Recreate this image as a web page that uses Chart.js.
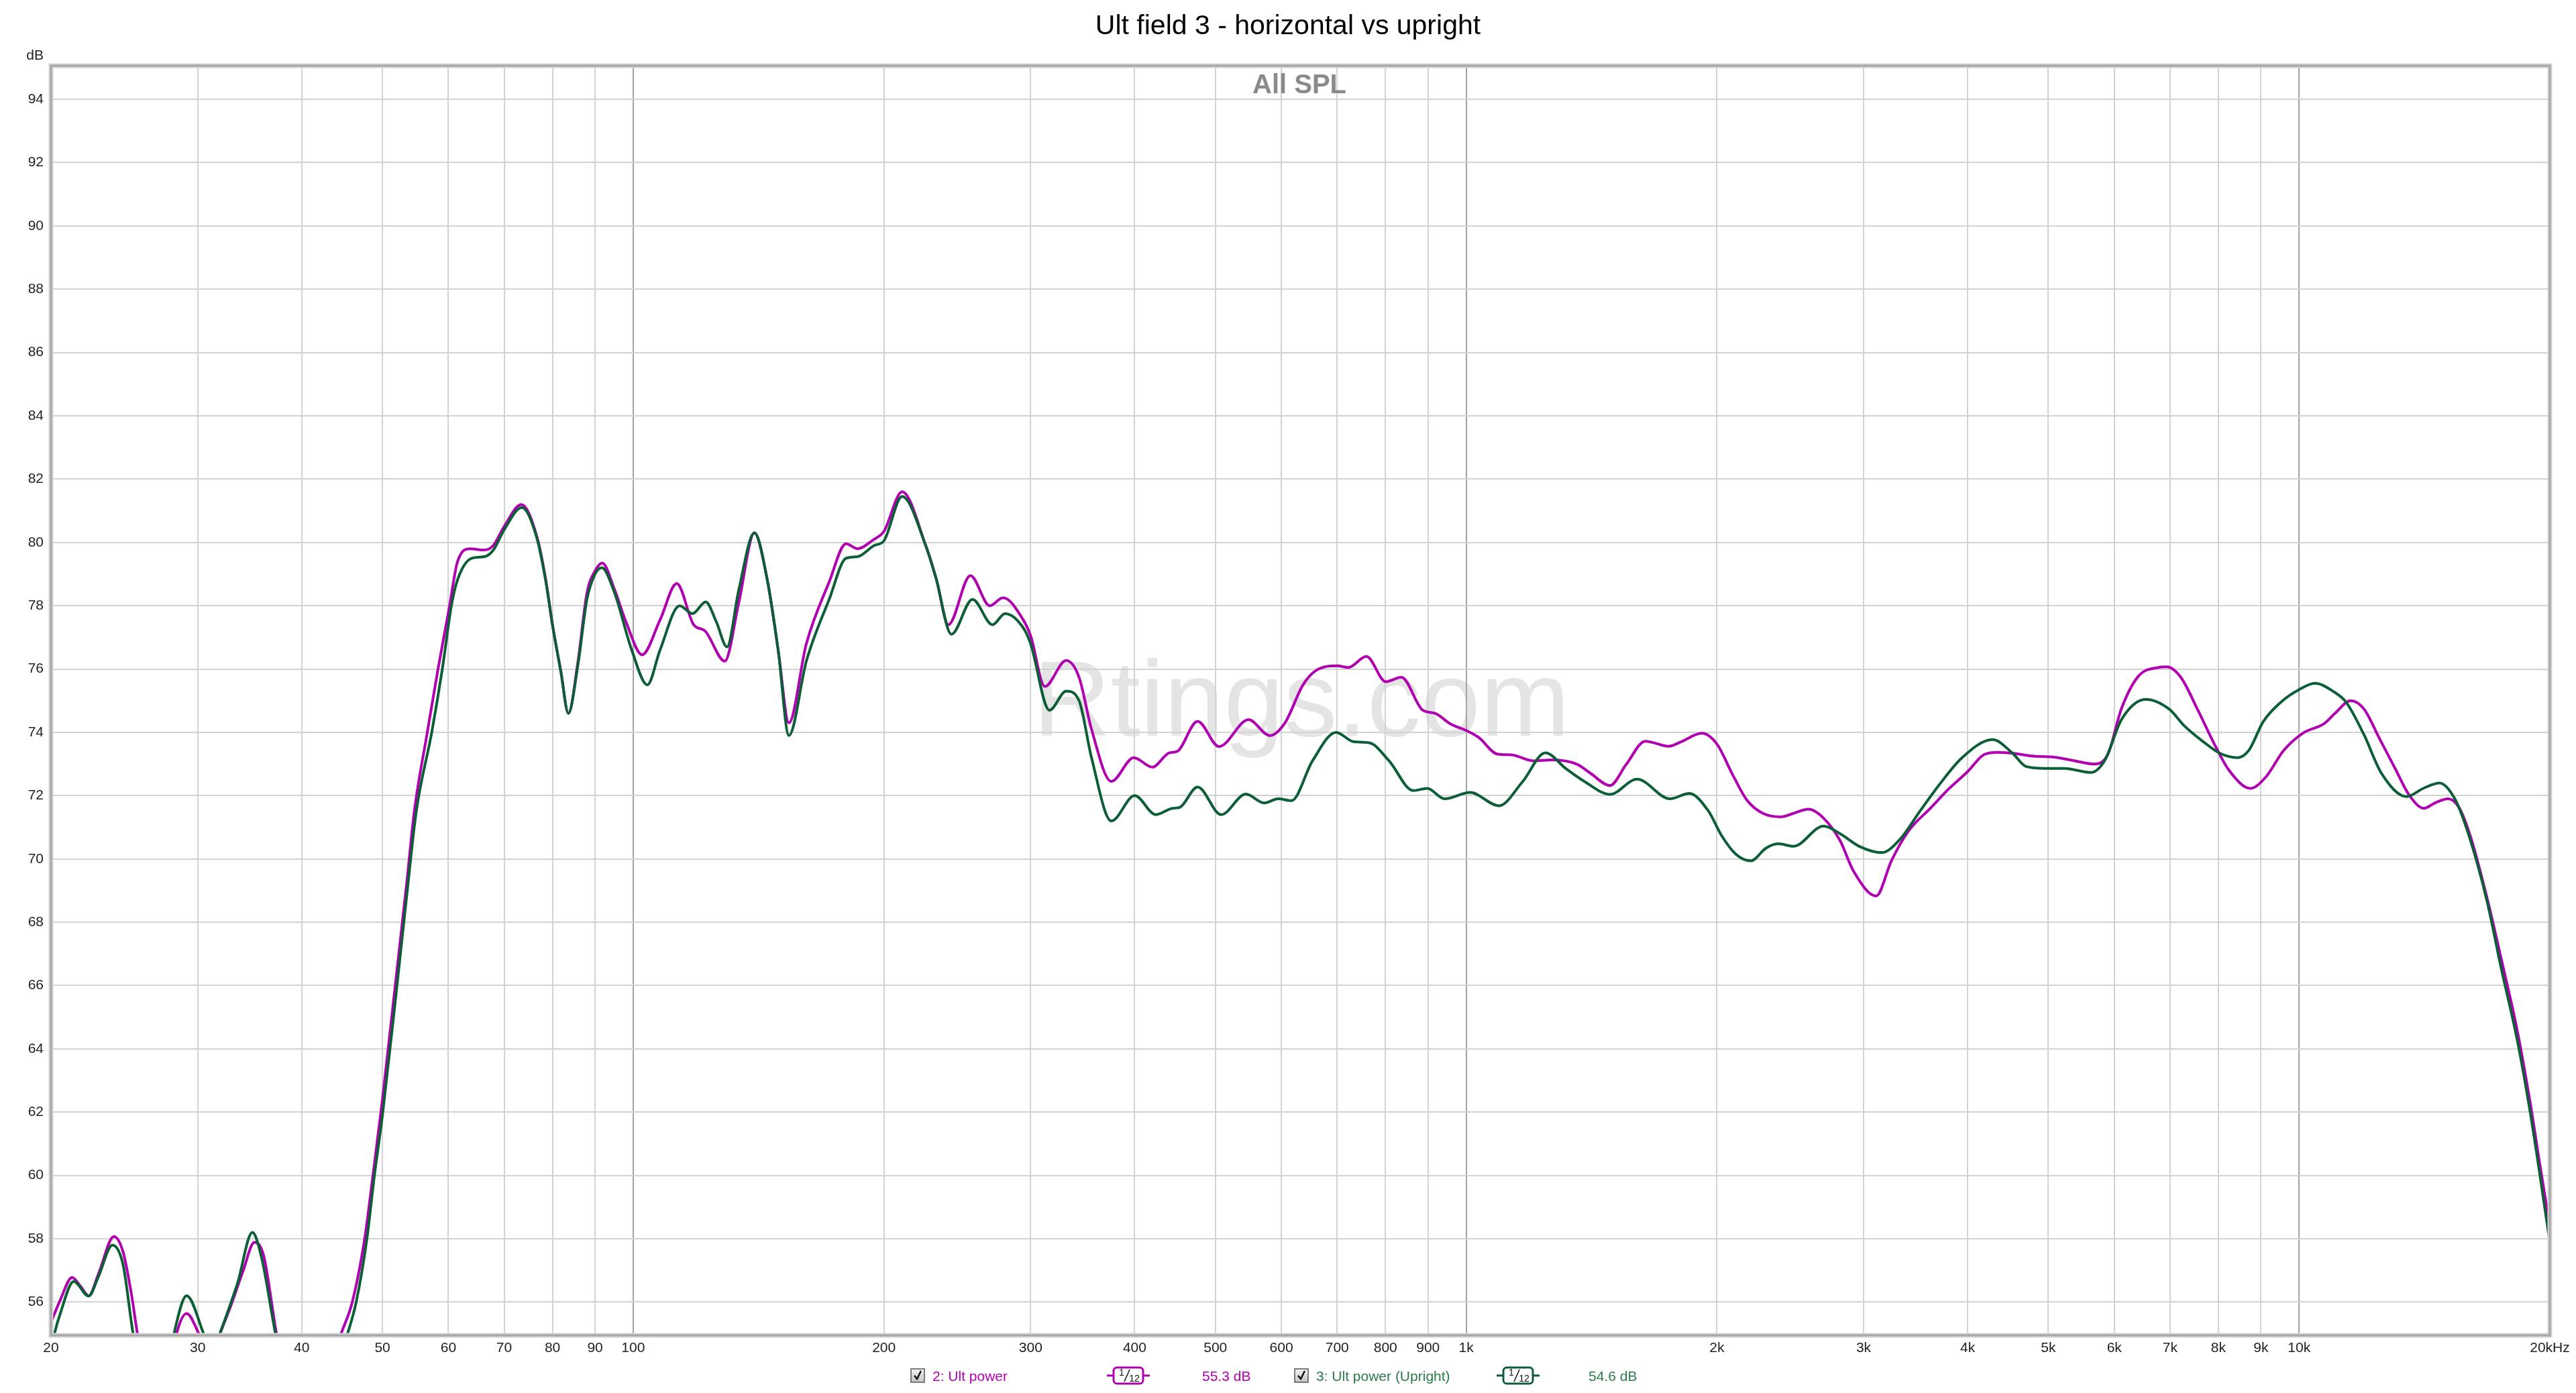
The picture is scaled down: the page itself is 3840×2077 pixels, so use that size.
<!DOCTYPE html>
<html>
<head>
<meta charset="utf-8">
<script src="https://cdn.jsdelivr.net/npm/chart.js@4.4.1/dist/chart.umd.min.js"></script>
<style>
  html, body { margin: 0; padding: 0; background: #fff; }
</style>
</head>
<body>
<canvas id="spl" width="3840" height="2077"></canvas>
<script>
// Ult power, horizontal (magenta) - frequency in Hz, level in dB
const ultFreq = [20, 20.5, 21.2, 21.7, 22.2, 22.8, 23.8, 24.4, 25.0, 25.4,
  26.5, 27.5, 28.3, 29.1, 30.1, 31.0, 31.9, 32.9, 34.0, 35.1,
  36.0, 37.3, 39.5, 42.5, 44.6, 46.0, 47.6, 48.7, 50, 52,
  53.5, 54.6, 56.6, 58.3, 60.2, 61.5, 63.7, 66.3, 67.9, 70,
  73.4, 76.6, 78.5, 80, 81.9, 83.6, 85.8, 88, 90, 91.8,
  95, 98, 102.5, 107.7, 112.8, 118.2, 122, 128.8, 133.9, 139.8,
  144.8, 149.3, 153.8, 161.4, 171.9, 180.1, 185.9, 194.6, 200, 210.3,
  224.5, 231.1, 239, 254, 268, 278, 294, 300, 312, 331,
  343, 355, 375, 399, 420, 440, 450, 476, 505, 548,
  581, 606, 637, 660, 700, 722, 759, 801, 836, 887,
  918, 957, 1000, 1035, 1091, 1133, 1204, 1269, 1359, 1411,
  1488, 1557, 1641, 1751, 1811, 1918, 2000, 2091, 2173, 2272,
  2387, 2472, 2575, 2686, 2811, 2920, 3106, 3241, 3392, 3617,
  3792, 4000, 4188, 4353, 4560, 4776, 5069, 5379, 5665, 5893,
  6120, 6412, 6776, 6937, 7210, 7560, 7922, 8239, 8741, 9129,
  9578, 10115, 10711, 11045, 11530, 11962, 12491, 13046, 13538, 14122,
  14563, 15100, 15580, 16064, 16800, 17500, 18270, 18970, 19440, 20000];
const ultDb = [55.36, 56.04, 56.78, 56.5, 56.2, 56.88, 58.07, 57.6, 56.2, 55.0,
  52.8, 53.2, 55.0, 55.64, 55.0, 54.2, 55.0, 55.9, 56.97, 57.89,
  57.47, 55.0, 51.8, 53.3, 55.0, 56.0, 58.0, 60.0, 62.4, 66.4,
  69.3, 71.5, 74.0, 76.0, 78.0, 79.37, 79.8, 79.76, 79.9, 80.5,
  81.2, 80.2, 78.85, 77.4, 75.9, 74.6, 76.2, 78.4, 79.1, 79.35,
  78.5, 77.5, 76.45, 77.55, 78.7, 77.4, 77.2, 76.25, 78.1, 80.3,
  78.85, 76.6, 74.3, 76.8, 78.75, 79.96, 79.8, 80.1, 80.35, 81.6,
  79.9, 78.85, 77.4, 78.95, 78.0, 78.25, 77.55, 77.05, 75.45, 76.27,
  75.74, 74.1, 72.45, 73.2, 72.9, 73.35, 73.4, 74.35, 73.55, 74.4,
  73.9, 74.3, 75.5, 75.95, 76.1, 76.05, 76.4, 75.6, 75.74, 74.7,
  74.6, 74.27, 74.06, 73.84, 73.31, 73.29, 73.1, 73.13, 72.99, 72.7,
  72.32, 72.99, 73.72, 73.56, 73.7, 73.97, 73.63, 72.64, 71.86, 71.44,
  71.33, 71.44, 71.57, 71.29, 70.58, 69.6, 68.83, 69.95, 70.86, 71.63,
  72.2, 72.76, 73.3, 73.37, 73.33, 73.25, 73.22, 73.1, 73.0, 73.3,
  74.75, 75.77, 76.05, 76.07, 75.74, 74.7, 73.6, 72.8, 72.23, 72.6,
  73.42, 73.98, 74.27, 74.6, 75.0, 74.74, 73.8, 72.85, 72.04, 71.6,
  71.77, 71.9, 71.6, 70.7, 68.8, 66.8, 64.6, 62.2, 60.4, 58.4];

// Ult power (Upright) (green)
const uprightFreq = [20, 20.2, 20.5, 21.3, 22.2, 22.8, 23.7, 24.4, 25.1, 26.3,
  27.3, 28.1, 29.1, 30.5, 31.2, 31.9, 33.5, 34.9, 35.8, 37.2,
  39.5, 42.5, 45.4, 46.5, 47.9, 48.9, 50, 52, 53.5, 54.9,
  57.3, 59.0, 60.5, 61.5, 64.0, 66.3, 67.9, 70, 73.5, 76.6,
  78.5, 80, 81.9, 83.6, 85.8, 88, 90, 91.7, 95, 99.6,
  104, 107.7, 113.7, 117.8, 122.2, 125.8, 129.6, 133.9, 139.8, 144.8,
  149.3, 153.8, 161.4, 171.9, 180.1, 185.9, 194.6, 200, 210.3, 224.5,
  231.1, 241, 255.5, 270, 279.5, 294, 300, 316, 331, 343,
  355, 375, 400, 424, 444, 453, 476, 508, 544, 572,
  595, 617, 654, 698, 733, 765, 808, 864, 898, 942,
  1011, 1095, 1168, 1245, 1318, 1390, 1488, 1604, 1757, 1853,
  1954, 2027, 2106, 2197, 2290, 2370, 2472, 2686, 2811, 2964,
  3155, 3325, 3504, 3695, 3939, 4286, 4525, 4703, 4962, 5226,
  5622, 5846, 6120, 6547, 6992, 7266, 7676, 8044, 8437, 8707,
  9057, 9525, 10000, 10452, 10980, 11390, 11962, 12560, 13460, 14122,
  14740, 15380, 15965, 16800, 17500, 18270, 18970, 20000];
const uprightDb = [54.3, 55.0, 55.6, 56.65, 56.19, 56.8, 57.8, 57.2, 55.0, 52.6,
  53.2, 55.0, 56.2, 55.0, 54.3, 55.0, 56.6, 58.2, 57.4, 55.0,
  51.8, 52.8, 55.0, 56.0, 58.0, 60.0, 61.9, 65.9, 68.9, 71.5,
  74.0, 76.0, 78.0, 78.8, 79.5, 79.55, 79.75, 80.4, 81.1, 80.15,
  78.8, 77.4, 75.9, 74.6, 76.1, 78.2, 79.0, 79.2, 78.4, 76.6,
  75.5, 76.6, 78.0, 77.75, 78.12, 77.5, 76.7, 78.5, 80.3, 78.85,
  76.6, 73.9, 76.25, 78.2, 79.5, 79.55, 79.9, 80.05, 81.45, 79.9,
  78.85, 77.1, 78.2, 77.4, 77.75, 77.3, 76.8, 74.7, 75.3, 75.0,
  73.2, 71.2, 72.0, 71.4, 71.6, 71.63, 72.27, 71.4, 72.05, 71.77,
  71.9, 71.84, 73.1, 74.0, 73.7, 73.67, 73.1, 72.16, 72.23, 71.9,
  72.1, 71.68, 72.43, 73.35, 72.85, 72.43, 72.04, 72.52, 71.9, 72.07,
  71.51, 70.73, 70.16, 69.94, 70.34, 70.48, 70.4, 71.04, 70.8, 70.4,
  70.2, 70.65, 71.5, 72.33, 73.2, 73.77, 73.35, 72.92, 72.86, 72.86,
  72.73, 73.12, 74.4, 75.04, 74.72, 74.23, 73.7, 73.33, 73.2, 73.44,
  74.34, 74.97, 75.35, 75.55, 75.3, 74.95, 73.93, 72.7, 71.97, 72.24,
  72.4, 71.9, 70.8, 68.7, 66.5, 64.3, 61.9, 57.9];

// axis ticks
const freqTicks = [20, 30, 40, 50, 60, 70, 80, 90, 100, 200, 300, 400, 500, 600, 700, 800, 900,
  1000, 2000, 3000, 4000, 5000, 6000, 7000, 8000, 9000, 10000, 20000];
const freqLabels = ['20', '30', '40', '50', '60', '70', '80', '90', '100', '200', '300', '400', '500', '600', '700', '800', '900',
  '1k', '2k', '3k', '4k', '5k', '6k', '7k', '8k', '9k', '10k', '20kHz'];
const majorFreqs = [100, 1000, 10000];
const dbTicks = [56, 58, 60, 62, 64, 66, 68, 70, 72, 74, 76, 78, 80, 82, 84, 86, 88, 90, 92, 94];

const MAGENTA = '#b000b0';
const GREEN = '#0b5e36';
const FONT = '"Liberation Sans", Arial, sans-serif';

function toPoints(freqs, dbs) {
  return freqs.map((f, i) => ({ x: f, y: dbs[i] }));
}

// draws the little "1/12" smoothing badge of the legend
function drawBadge(c, cx, cy, color) {
  c.strokeStyle = color;
  c.lineWidth = 3;
  c.beginPath();
  c.moveTo(cx - 32, cy); c.lineTo(cx - 22, cy);
  c.moveTo(cx + 22, cy); c.lineTo(cx + 32, cy);
  c.stroke();
  c.beginPath();
  c.roundRect(cx - 22, cy - 12, 44, 24, 5);
  c.fillStyle = '#fff';
  c.fill();
  c.stroke();
  c.fillStyle = '#111';
  c.strokeStyle = '#111';
  c.lineWidth = 1.5;
  c.font = '14px ' + FONT;
  c.textAlign = 'center';
  c.textBaseline = 'middle';
  c.fillText('1', cx - 10, cy - 4);
  c.beginPath();
  c.moveTo(cx - 6, cy + 9); c.lineTo(cx + 2, cy - 9);
  c.stroke();
  c.fillText('12', cx + 9, cy + 5);
}

function drawCheckbox(c, cx, cy) {
  const g = c.createLinearGradient(0, cy - 10, 0, cy + 10);
  g.addColorStop(0, '#f4f4f4');
  g.addColorStop(1, '#c4c4c4');
  c.fillStyle = g;
  c.fillRect(cx - 10, cy - 10, 20, 20);
  c.strokeStyle = '#555';
  c.lineWidth = 1.5;
  c.strokeRect(cx - 10, cy - 10, 20, 20);
  c.strokeStyle = '#111';
  c.lineWidth = 2.5;
  c.beginPath();
  c.moveTo(cx - 5, cy); c.lineTo(cx - 1, cy + 5); c.lineTo(cx + 5, cy - 7);
  c.stroke();
}

const decorPlugin = {
  id: 'decor',
  beforeDraw(chart) {
    const c = chart.ctx;
    c.save();
    c.fillStyle = '#fff';
    c.fillRect(0, 0, chart.width, chart.height);
    // watermark
    c.fillStyle = '#e4e4e4';
    c.font = '160px ' + FONT;
    c.textAlign = 'center';
    c.textBaseline = 'alphabetic';
    c.fillText('Rtings.com', 1940, 1097);
    c.restore();
  },
  afterDraw(chart) {
    const c = chart.ctx;
    const a = chart.chartArea;
    c.save();
    // frame around the plot
    c.strokeStyle = '#d4d4d4';
    c.lineWidth = 7;
    c.strokeRect(a.left, a.top, a.right - a.left, a.bottom - a.top);
    c.strokeStyle = '#a6a6a6';
    c.lineWidth = 3;
    c.strokeRect(a.left, a.top, a.right - a.left, a.bottom - a.top);

    // title and labels
    c.fillStyle = '#000';
    c.font = '41px ' + FONT;
    c.textAlign = 'center';
    c.textBaseline = 'middle';
    c.fillText('Ult field 3 - horizontal vs upright', 1920, 40);

    c.fillStyle = '#8a8a8a';
    c.font = 'bold 40px ' + FONT;
    c.fillText('All SPL', 1937, 128);

    c.fillStyle = '#222';
    c.font = '21px ' + FONT;
    c.textAlign = 'right';
    c.fillText('dB', 65, 83);

    // legend
    c.textAlign = 'left';
    drawCheckbox(c, 1368, 2051);
    c.fillStyle = MAGENTA;
    c.font = '21px ' + FONT;
    c.textBaseline = 'middle';
    c.fillText('2: Ult power', 1390, 2053);
    drawBadge(c, 1682, 2051, MAGENTA);
    c.fillStyle = MAGENTA;
    c.font = '21px ' + FONT;
    c.textAlign = 'left';
    c.fillText('55.3 dB', 1792, 2053);

    drawCheckbox(c, 1940, 2051);
    c.fillStyle = '#2a7a4a';
    c.font = '21px ' + FONT;
    c.textAlign = 'left';
    c.fillText('3: Ult power (Upright)', 1962, 2053);
    drawBadge(c, 2263, 2051, GREEN);
    c.fillStyle = '#2a7a4a';
    c.font = '21px ' + FONT;
    c.textAlign = 'left';
    c.fillText('54.6 dB', 2368, 2053);
    c.restore();
  }
};

new Chart(document.getElementById('spl'), {
  type: 'line',
  data: {
    datasets: [
      {
        label: '3: Ult power (Upright)',
        data: toPoints(uprightFreq, uprightDb),
        borderColor: GREEN,
        borderWidth: 4,
        pointRadius: 0,
        cubicInterpolationMode: 'monotone',
        order: 0
      },
      {
        label: '2: Ult power',
        data: toPoints(ultFreq, ultDb),
        borderColor: MAGENTA,
        borderWidth: 4,
        pointRadius: 0,
        cubicInterpolationMode: 'monotone',
        order: 1
      }
    ]
  },
  options: {
    responsive: false,
    devicePixelRatio: 1,
    animation: false,
    events: [],
    layout: { padding: { top: 98, right: 39, bottom: 0, left: 0 } },
    plugins: {
      legend: { display: false },
      title: { display: false },
      tooltip: { enabled: false }
    },
    scales: {
      x: {
        type: 'logarithmic',
        min: 20,
        max: 20000,
        afterBuildTicks: (s) => { s.ticks = freqTicks.map(v => ({ value: v })); },
        afterFit: (s) => { s.height = 86; },
        border: { display: false },
        grid: {
          drawTicks: false,
          lineWidth: 2,
          color: (ctx) => majorFreqs.includes(ctx.tick && ctx.tick.value) ? '#a3a3a3' : '#d2d2d2'
        },
        ticks: {
          autoSkip: false,
          maxRotation: 0,
          padding: 7,
          color: '#222',
          font: { family: FONT, size: 21 },
          callback: (v) => {
            const i = freqTicks.indexOf(v);
            return i >= 0 ? freqLabels[i] : '';
          }
        }
      },
      y: {
        min: 54.95,
        max: 95.06,
        afterBuildTicks: (s) => { s.ticks = dbTicks.map(v => ({ value: v })); },
        afterFit: (s) => { s.width = 76; },
        border: { display: false },
        grid: { drawTicks: false, lineWidth: 2, color: '#d2d2d2' },
        ticks: {
          padding: 11,
          color: '#222',
          font: { family: FONT, size: 21 }
        }
      }
    }
  },
  plugins: [decorPlugin]
});
</script>
</body>
</html>
